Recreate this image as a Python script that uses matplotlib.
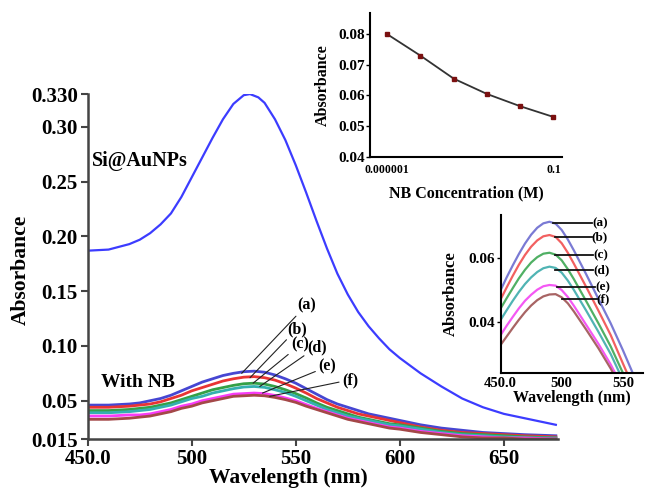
import numpy as np
import matplotlib
matplotlib.use("Agg")
from matplotlib import pyplot as plt

plt.rcParams['font.family'] = ['Liberation Serif', 'DejaVu Serif']
plt.rcParams['font.weight'] = 'bold'
plt.rcParams['axes.labelweight'] = 'bold'

# main spectra
si_wl = [450, 460, 470, 475, 480, 485, 490, 495, 500, 505, 510, 515, 520, 525, 528, 532, 535, 540, 545, 550,
         555, 560, 565, 570, 575, 580, 585, 590, 595, 600, 610, 620, 630, 640, 650, 660, 670, 675]
si_aunps = [0.187, 0.188, 0.193, 0.197, 0.203, 0.211, 0.221, 0.236, 0.254, 0.272, 0.290, 0.307, 0.321, 0.329, 0.330, 0.327, 0.322, 0.307, 0.288, 0.265,
            0.240, 0.214, 0.189, 0.166, 0.147, 0.131, 0.118, 0.107, 0.097, 0.089, 0.075, 0.063, 0.052, 0.044, 0.038, 0.034, 0.030, 0.028]
wl = [450, 460, 470, 475, 480, 485, 490, 495, 500, 505, 510, 515, 520, 525, 530, 535, 540, 545, 550, 555,
      560, 565, 570, 575, 580, 585, 590, 595, 600, 610, 620, 630, 640, 650, 660, 675]
nb_a = [0.046, 0.046, 0.047, 0.048, 0.050, 0.052, 0.055, 0.059, 0.063, 0.067, 0.070, 0.073, 0.075, 0.0765, 0.077, 0.076, 0.0735, 0.070, 0.066, 0.061,
        0.056, 0.051, 0.047, 0.044, 0.041, 0.038, 0.036, 0.034, 0.032, 0.028, 0.025, 0.023, 0.021, 0.020, 0.019, 0.018]
nb_b = [0.044, 0.044, 0.045, 0.046, 0.047, 0.049, 0.052, 0.055, 0.059, 0.062, 0.065, 0.068, 0.070, 0.0715, 0.072, 0.071, 0.0688, 0.0655, 0.0615, 0.057,
        0.052, 0.048, 0.044, 0.041, 0.038, 0.036, 0.034, 0.032, 0.030, 0.026, 0.023, 0.021, 0.020, 0.019, 0.018, 0.017]
nb_c = [0.041, 0.041, 0.042, 0.043, 0.044, 0.046, 0.048, 0.051, 0.054, 0.057, 0.060, 0.062, 0.064, 0.0655, 0.066, 0.0652, 0.063, 0.060, 0.0565, 0.0525,
        0.048, 0.044, 0.041, 0.038, 0.035, 0.033, 0.031, 0.029, 0.028, 0.025, 0.022, 0.020, 0.019, 0.018, 0.017, 0.016]
nb_d = [0.039, 0.039, 0.040, 0.041, 0.042, 0.044, 0.046, 0.049, 0.052, 0.054, 0.057, 0.059, 0.061, 0.0625, 0.063, 0.0622, 0.060, 0.0575, 0.054, 0.050,
        0.046, 0.042, 0.039, 0.036, 0.034, 0.032, 0.030, 0.028, 0.027, 0.024, 0.021, 0.019, 0.018, 0.017, 0.016, 0.016]
nb_e = [0.036, 0.036, 0.037, 0.037, 0.038, 0.040, 0.042, 0.045, 0.047, 0.050, 0.052, 0.054, 0.056, 0.0565, 0.057, 0.0565, 0.0548, 0.0525, 0.050, 0.0465,
        0.043, 0.040, 0.037, 0.034, 0.032, 0.030, 0.028, 0.026, 0.025, 0.022, 0.020, 0.018, 0.017, 0.016, 0.016, 0.015]
nb_f = [0.033, 0.033, 0.034, 0.035, 0.036, 0.038, 0.040, 0.043, 0.045, 0.048, 0.050, 0.052, 0.054, 0.0545, 0.055, 0.0545, 0.053, 0.051, 0.0485, 0.045,
        0.042, 0.039, 0.036, 0.033, 0.031, 0.029, 0.027, 0.025, 0.024, 0.021, 0.019, 0.017, 0.016, 0.016, 0.015, 0.015]
nb_series = [nb_a, nb_b, nb_c, nb_d, nb_e, nb_f]
letters = ['(a)', '(b)', '(c)', '(d)', '(e)', '(f)']
colors = ['#4646d2', '#e83434', '#34a046', '#34b0b0', '#f83cf8', '#a44848']
y_ticks = [0.015, 0.05, 0.10, 0.15, 0.20, 0.25, 0.30, 0.330]
y_ticklabels = ['0.015', '0.05', '0.10', '0.15', '0.20', '0.25', '0.30', '0.330']
x_ticks = [450, 500, 550, 600, 650]
x_ticklabels = ['450.0', '500', '550', '600', '650']
# label anchors (curve point, text position)
label_xy = [(524, 0.075), (528, 0.071), (529.5, 0.066), (532.7, 0.063), (534, 0.057), (537.5, 0.054)]
label_txt = [(555, 0.137), (550.5, 0.1155), (552, 0.101), (560, 0.099), (565, 0.081), (576, 0.069)]

# inset 1: absorbance vs concentration
conc = [1e-6, 1e-5, 1e-4, 1e-3, 1e-2, 1e-1]
conc_abs = [0.080, 0.073, 0.0655, 0.0605, 0.0565, 0.053]

# inset 2: zoomed spectra
wl2 = [450, 455, 460, 465, 470, 475, 480, 485, 490, 495, 500, 505, 510, 520, 530, 540, 550, 560, 570]
in_a = [0.0499, 0.0540, 0.0578, 0.0614, 0.0647, 0.0675, 0.0697, 0.0711, 0.0716, 0.0710, 0.0690, 0.0660, 0.0625, 0.0550, 0.0472, 0.0395, 0.0310, 0.0220, 0.0140]
in_b = [0.0470, 0.0508, 0.0545, 0.0580, 0.0611, 0.0637, 0.0657, 0.0670, 0.0674, 0.0668, 0.0648, 0.0618, 0.0583, 0.0510, 0.0435, 0.0358, 0.0268, 0.0180, 0.0100]
in_c = [0.0441, 0.0474, 0.0506, 0.0537, 0.0564, 0.0587, 0.0604, 0.0615, 0.0618, 0.0612, 0.0594, 0.0566, 0.0534, 0.0465, 0.0395, 0.0322, 0.0238, 0.0155, 0.0080]
in_d = [0.0405, 0.0436, 0.0466, 0.0494, 0.0519, 0.0540, 0.0557, 0.0569, 0.0574, 0.0570, 0.0555, 0.0530, 0.0500, 0.0435, 0.0368, 0.0298, 0.0215, 0.0135, 0.0060]
in_e = [0.0357, 0.0387, 0.0415, 0.0442, 0.0466, 0.0485, 0.0501, 0.0512, 0.0516, 0.0514, 0.0500, 0.0478, 0.0450, 0.0390, 0.0330, 0.0265, 0.0190, 0.0110, 0.0040]
in_f = [0.0326, 0.0353, 0.0380, 0.0406, 0.0430, 0.0451, 0.0468, 0.0480, 0.0486, 0.0487, 0.0477, 0.0458, 0.0432, 0.0375, 0.0316, 0.0252, 0.0180, 0.0100, 0.0030]
in_series = [in_a, in_b, in_c, in_d, in_e, in_f]
in_colors = ['#7a7ad4', '#f26060', '#50b064', '#50b4b4', '#f458f4', '#a86464']
in_lines = [(492.9, 524.8, 0.0712), (494.5, 524.6, 0.0668), (494.5, 525.9, 0.0610),
            (494.5, 525.9, 0.0563), (495.9, 527.3, 0.0509), (500.0, 528.7, 0.0472)]

fig = plt.figure(figsize=(6.45, 4.9), dpi=100)

ax = fig.add_axes([0.136, 0.104, 0.729, 0.704])
ax.plot(si_wl, si_aunps, color='#3c3cff', lw=1.6)
for s, c in zip(nb_series, colors):
    ax.plot(wl, s, color=c, lw=2)
for t, xy, xt in zip(letters, label_xy, label_txt):
    ax.annotate(t, xy=xy, xytext=xt, ha='center', va='center', fontsize=11.5, fontweight='bold',
                arrowprops=dict(arrowstyle='-', color='#222222', lw=0.8, shrinkA=0, shrinkB=0))
ax.text(475, 0.269, 'Si@AuNPs', ha='center', va='center', fontsize=14.5, fontweight='bold')
ax.text(474, 0.067, 'With NB', ha='center', va='center', fontsize=14, fontweight='bold')
ax.set_xlim(450, 676)
ax.set_ylim(0.015, 0.330)
ax.set_yticks(y_ticks)
ax.set_yticklabels(y_ticklabels)
ax.set_xticks(x_ticks)
ax.set_xticklabels(x_ticklabels)
ax.tick_params(labelsize=15, width=1.5, length=5, color='#444444', pad=2)
for l in ax.get_xticklabels() + ax.get_yticklabels():
    l.set_fontweight('bold')
ax.spines['top'].set_visible(False)
ax.spines['right'].set_visible(False)
for sp in ['left', 'bottom']:
    ax.spines[sp].set_linewidth(1.8)
    ax.spines[sp].set_color('#444444')
ax.set_xlabel('Wavelength (nm)', fontsize=15.5, fontweight='bold')
ax.xaxis.set_label_coords(0.426, -0.083)
ax.set_ylabel('Absorbance', fontsize=15.5, fontweight='bold')
ax.yaxis.set_label_coords(-0.122, 0.49)

# inset 1
ax1 = fig.add_axes([0.574, 0.680, 0.298, 0.294])
ax1.plot(conc, conc_abs, color='#333333', lw=1.3)
ax1.plot(conc, conc_abs, 's', color='#7a1010', ms=3)
ax1.set_xscale('log')
ax1.set_xlim(10 ** -6.51, 10 ** -0.73)
ax1.set_ylim(0.04, 0.087)
ax1.set_yticks([0.04, 0.05, 0.06, 0.07, 0.08])
ax1.set_yticklabels(['0.04', '0.05', '0.06', '0.07', '0.08'])
ax1.set_xticks([1e-6, 1e-1])
ax1.set_xticklabels(['0.000001', '0.1'])
ax1.minorticks_off()
ax1.tick_params(axis='y', labelsize=11, length=3, width=1, pad=1)
ax1.tick_params(axis='x', labelsize=8.5, length=0, pad=5)
for l in ax1.get_xticklabels() + ax1.get_yticklabels():
    l.set_fontweight('bold')
ax1.spines['top'].set_visible(False)
ax1.spines['right'].set_visible(False)
for sp in ['left', 'bottom']:
    ax1.spines[sp].set_linewidth(1.5)
ax1.set_xlabel('NB Concentration (M)', fontsize=11.5, fontweight='bold', labelpad=7)
ax1.set_ylabel('Absorbance', fontsize=11.5, fontweight='bold', labelpad=5)

# inset 2
ax2 = fig.add_axes([0.776, 0.239, 0.221, 0.322])
for s, c in zip(in_series, in_colors):
    ax2.plot(wl2, s, color=c, lw=1.6)
for t, (x0, x1, y) in zip(letters, in_lines):
    ax2.plot([x0, x1], [y, y], color='#111111', lw=1.3)
    ax2.text(x1, y, t, ha='left', va='center', fontsize=9.5, fontweight='bold')
ax2.set_xlim(450, 566.5)
ax2.set_ylim(0.0238, 0.0737)
ax2.set_yticks([0.04, 0.06])
ax2.set_yticklabels(['0.04', '0.06'])
ax2.set_xticks([450, 500, 550])
ax2.set_xticklabels(['450.0', '500', '550'])
ax2.tick_params(axis='y', labelsize=11, length=3, width=1, pad=1)
ax2.tick_params(axis='x', labelsize=10.5, length=0, pad=3)
for l in ax2.get_xticklabels() + ax2.get_yticklabels():
    l.set_fontweight('bold')
ax2.spines['top'].set_visible(False)
ax2.spines['right'].set_visible(False)
for sp in ['left', 'bottom']:
    ax2.spines[sp].set_linewidth(1.5)
ax2.set_xlabel('Wavelength (nm)', fontsize=11.5, fontweight='bold', labelpad=0)
ax2.set_ylabel('Absorbance', fontsize=12, fontweight='bold', labelpad=7)

fig.savefig('out.png', dpi=100)
